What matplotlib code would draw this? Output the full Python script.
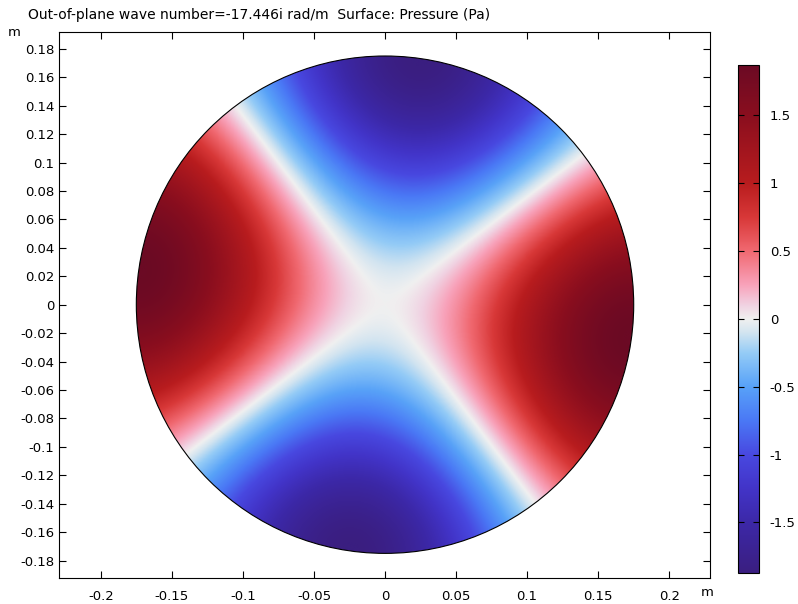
import numpy as np
import matplotlib
matplotlib.use("Agg")
import matplotlib.pyplot as plt
from matplotlib.colors import LinearSegmentedColormap
from matplotlib.patches import Circle
from math import factorial

# ---- data / model parameters ----
duct_radius = 0.175            # m
wave_number = 17.446           # rad/m (cut-off, out-of-plane = -17.446i)
azimuthal_order = 2
rotation_deg = -8.0            # nodal lines at ~37 deg and ~127 deg
peak_pressure = 1.87           # Pa at the wall
color_limits = [-1.87, 1.87]
x_ticks = [-0.2, -0.15, -0.1, -0.05, 0, 0.05, 0.1, 0.15, 0.2]
x_tick_labels = ["-0.2", "-0.15", "-0.1", "-0.05", "0", "0.05", "0.1", "0.15", "0.2"]
y_ticks = [round(-0.18 + 0.02 * i, 2) for i in range(19)]
y_tick_labels = ["%g" % v for v in y_ticks]
cbar_ticks = [-1.5, -1, -0.5, 0, 0.5, 1, 1.5]
cbar_tick_labels = ["-1.5", "-1", "-0.5", "0", "0.5", "1", "1.5"]
title_text = "Out-of-plane wave number=-17.446i rad/m  Surface: Pressure (Pa)"

# colormap stops (COMSOL 'Wave'-like), sampled from the colour bar
cmap_vals = [-1.87, -1.5, -1.25, -1.0, -0.75, -0.5, -0.25, -0.1, 0.0, 0.1, 0.25, 0.5, 0.75, 1.0, 1.5, 1.87]
cmap_cols = ["#3a1e80", "#3c28a8", "#4234c8", "#4848e0", "#4a78f5", "#58a2f8", "#94cbf6", "#d2e4f0",
             "#f0f0f0", "#f0d2e2", "#f8a2ba", "#f06870", "#d83838", "#b81c1e", "#8a0e1e", "#6b0a24"]


def bessel_j(n, x, terms=30):
    s = np.zeros_like(x)
    for k in range(terms):
        s += (-1) ** k / (factorial(k) * factorial(k + n)) * (x / 2.0) ** (2 * k + n)
    return s


lo, hi = color_limits
cmap_pos = [(v - lo) / (hi - lo) for v in cmap_vals]
cmap = LinearSegmentedColormap.from_list("wave", list(zip(cmap_pos, cmap_cols)), N=512)

fig = plt.figure(figsize=(7.98, 6.04), dpi=100)
ax = fig.add_axes([59.3 / 798, (604 - 577.7) / 604, 651 / 798, 546 / 604])

xlim = (-0.2292, 0.2289)
ylim = (-0.1921, 0.1921)

n = 700
xs = np.linspace(-duct_radius, duct_radius, n)
X, Y = np.meshgrid(xs, xs)
R = np.hypot(X, Y)
TH = np.arctan2(Y, X)
amp = peak_pressure / bessel_j(azimuthal_order, np.array([wave_number * duct_radius]))[0]
P = amp * bessel_j(azimuthal_order, wave_number * R) * np.cos(azimuthal_order * (TH - np.deg2rad(rotation_deg)))

im = ax.imshow(P, origin="lower", extent=[-duct_radius, duct_radius, -duct_radius, duct_radius],
               cmap=cmap, vmin=lo, vmax=hi, interpolation="bilinear")
clip = Circle((0, 0), duct_radius, transform=ax.transData, facecolor="none", edgecolor="none")
ax.add_patch(clip)
im.set_clip_path(clip)
ax.add_patch(Circle((0, 0), duct_radius, facecolor="none", edgecolor="black", linewidth=0.8))

ax.set_xlim(*xlim)
ax.set_ylim(*ylim)
ax.set_aspect("auto")
ax.set_xticks(x_ticks)
ax.set_xticklabels(x_tick_labels)
ax.set_yticks(y_ticks)
ax.set_yticklabels(y_tick_labels)
ax.tick_params(direction="in", length=5, width=0.8, top=True, right=True, labelsize=9.5, colors="black")
ax.tick_params(axis="x", pad=9)
for s in ax.spines.values():
    s.set_linewidth(0.8)

fig.text(28 / 798, 1 - 15 / 604, title_text, fontsize=10, va="center", ha="left")
fig.text(14 / 798, 1 - 32 / 604, "m", fontsize=9.5, va="center", ha="center")
fig.text(707 / 798, 1 - 593 / 604, "m", fontsize=9.5, va="center", ha="center")

cax = fig.add_axes([738 / 798, (604 - 572.7) / 604, 20.7 / 798, 507.7 / 604])
cb = fig.colorbar(im, cax=cax)
cb.set_ticks(cbar_ticks)
cb.set_ticklabels(cbar_tick_labels)
cax.tick_params(direction="in", length=4, width=0.8, left=True, right=True, labelsize=9.5, pad=8)
cb.outline.set_linewidth(0.8)

fig.savefig("out.png", dpi=100)
